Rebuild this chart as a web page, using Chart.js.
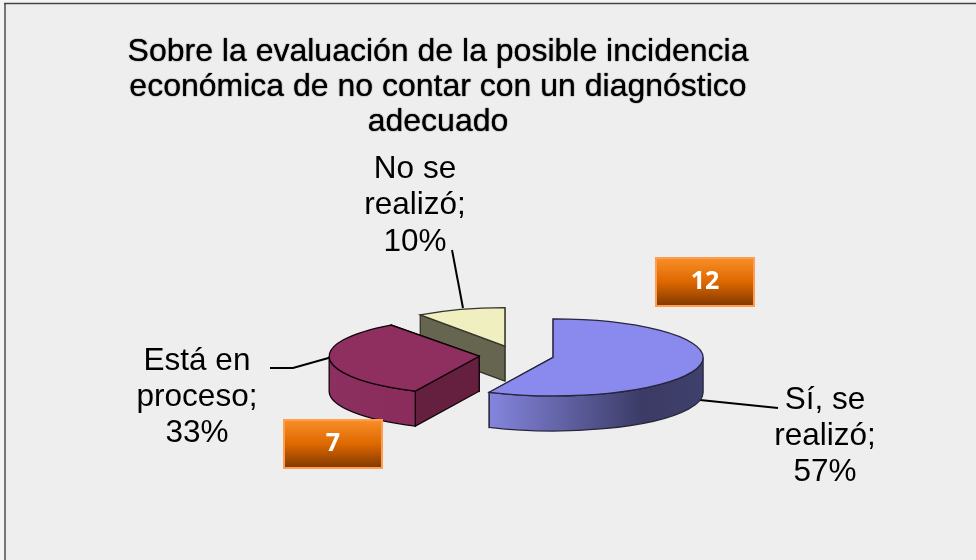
<!DOCTYPE html>
<html lang="es">
<head>
<meta charset="utf-8">
<title>Incidencia económica</title>
<style>
html,body{margin:0;padding:0;background:#f4f4f4}
#wrap{position:relative;width:976px;height:560px}
canvas{display:block}
</style>
<script src="https://cdn.jsdelivr.net/npm/chart.js@4/dist/chart.umd.min.js"></script>
</head>
<body>
<div id="wrap"><canvas id="c" width="976" height="560"></canvas></div>
<script>
const titleLines = ['Sobre la evaluación de la posible incidencia','económica de no contar con un diagnóstico','adecuado'];
const categories = ['Sí, se realizó','Está en proceso','No se realizó'];
const percentages = [57, 33, 10];
const labelLines = [['Sí, se','realizó;'],['Está en','proceso;'],['No se','realizó;']];
const calloutValues = ['12','7'];
const topColors = ['#8a8aee','#8e2f5f','#efefbf'];

const FONT = '"Liberation Sans", Arial, sans-serif';
const CX = 516.5, CY = 355.3, SQ = 0.257, EXPLODE = 37.5, DEPTH = 35, R = 150;
const backScale = [1, 1, 0.96];

const labelPos = [
  {x:825, y:[409,445,481]},
  {x:197, y:[370,406,442]},
  {x:415, y:[178,214,251]}
];
const leaders = [
  [[700,400],[778,408]],
  [[332,357],[293,368],[270,368]],
  [[452,250],[463,308]]
];
const boxes = [{x:655,y:257},{x:283,y:419}];

function sliceCentre(a){
  const mid=(a.startAngle+a.endAngle)/2;
  return {x:CX+Math.cos(mid)*EXPLODE, y:CY+Math.sin(mid)*EXPLODE*SQ};
}
function rim(c,ang,k,dy){return {x:c.x+Math.cos(ang)*R*k, y:c.y+Math.sin(ang)*R*SQ+(dy||0)};}
function quad(ctx,pts,fill,stroke){
  ctx.beginPath();pts.forEach((p,i)=>i?ctx.lineTo(p.x,p.y):ctx.moveTo(p.x,p.y));ctx.closePath();
  ctx.fillStyle=fill;ctx.fill();ctx.strokeStyle=stroke;ctx.lineWidth=1.3;ctx.stroke();
}
const walls = [
  {stops:[[0,'#8585de'],[0.72,'#3b3b66'],[1,'#40406c']], face:'#3b3b66', line:'#26263c'},
  {stops:[[0,'#8b3060'],[1,'#8a2c5c']], face:'#652040', line:'#100408'},
  {stops:[[0,'#666650'],[1,'#666650']], face:'#666650', line:'#33332a'}
];
function drawSlice(ctx,chart,arc,i){
  const c=sliceCentre(arc), w=walls[i], k=backScale[i];
  const s=arc.startAngle, e=arc.endAngle;
  const apexD={x:c.x,y:c.y+DEPTH};
  [e,s].forEach(a=>{
    quad(ctx,[c,rim(c,a,k),rim(c,a,k,DEPTH),apexD],w.face,w.line);
  });
  const a0=Math.max(s,0), a1=Math.min(e,Math.PI);
  if(a1>a0){
    const l=rim(c,a0,k),r=rim(c,a1,k);
    const g=ctx.createLinearGradient(Math.min(l.x,r.x),0,Math.max(l.x,r.x),0);
    w.stops.forEach(t=>g.addColorStop(t[0],t[1]));
    ctx.beginPath();
    ctx.ellipse(c.x,c.y,R*k,R*SQ,0,a0,a1);
    ctx.ellipse(c.x,c.y+DEPTH,R*k,R*SQ,0,a1,a0,true);
    ctx.closePath();
    ctx.fillStyle=g;ctx.fill();ctx.strokeStyle=w.line;ctx.lineWidth=1.3;ctx.stroke();
  }
  ctx.save();
  ctx.translate(c.x,c.y);ctx.scale(k,SQ);ctx.translate(-arc.x,-arc.y);
  arc.draw(ctx,chart.chartArea);
  ctx.restore();
  ctx.beginPath();
  ctx.moveTo(c.x,c.y);ctx.ellipse(c.x,c.y,R*k,R*SQ,0,s,e);ctx.closePath();
  ctx.strokeStyle=w.line;ctx.lineWidth=1.3;ctx.stroke();
}
const pie3d = {
  id:'pie3d',
  afterLayout(chart){
    const tb=chart.titleBlock;
    if(tb && !tb._soft){
      const orig=tb.draw;
      tb.draw=function(){
        const ctx=this.ctx;
        ctx.save();ctx.shadowColor='#000';ctx.shadowBlur=1.2;
        orig.call(this);
        ctx.restore();
      };
      tb._soft=true;
    }
  },
  beforeDraw(chart){
    const ctx=chart.ctx;
    ctx.save();
    ctx.fillStyle='#eeeeee';ctx.fillRect(5,3,971,557);
    ctx.strokeStyle='#777777';ctx.lineWidth=2;
    ctx.beginPath();ctx.moveTo(5,560);ctx.lineTo(5,4);ctx.stroke();
    ctx.strokeStyle='#444444';ctx.lineWidth=1.5;
    ctx.beginPath();ctx.moveTo(4,3.5);ctx.lineTo(976,3.5);ctx.stroke();
    ctx.restore();
  },
  beforeDatasetDraw(chart,args){
    const ctx=chart.ctx, arcs=chart.getDatasetMeta(args.index).data;
    ctx.save();
    ctx.strokeStyle='#000';ctx.lineWidth=2;
    leaders.forEach(l=>{ctx.beginPath();l.forEach((p,i)=>i?ctx.lineTo(p[0],p[1]):ctx.moveTo(p[0],p[1]));ctx.stroke();});
    [2,1,0].forEach(i=>drawSlice(ctx,chart,arcs[i],i));
    ctx.restore();
    return false;
  },
  afterDraw(chart){
    const ctx=chart.ctx;
    ctx.save();
    ctx.textAlign='center';ctx.textBaseline='alphabetic';
    ctx.fillStyle='#000';ctx.font='31.5px '+FONT;
    labelLines.forEach((ls,i)=>{
      const p=labelPos[i];
      [...ls,percentages[i]+'%'].forEach((t,j)=>ctx.fillText(t,p.x,p.y[j]));
    });
    boxes.forEach((b,i)=>{
      const g=ctx.createLinearGradient(0,b.y,0,b.y+50);
      g.addColorStop(0,'#fa9028');g.addColorStop(0.5,'#de6800');g.addColorStop(1,'#7c3600');
      ctx.fillStyle=g;ctx.fillRect(b.x,b.y,100,50);
      ctx.strokeStyle='#ff9e50';ctx.lineWidth=2;ctx.strokeRect(b.x+1,b.y+1,98,48);
      ctx.fillStyle='#fff';ctx.font='bold 25px "Open Sans", sans-serif';
      ctx.textBaseline='middle';ctx.fillText(calloutValues[i],b.x+50,b.y+25);
      ctx.textBaseline='alphabetic';
    });
    ctx.restore();
  }
};
new Chart(document.getElementById('c'),{
  type:'pie',
  data:{labels:categories,datasets:[{data:percentages,backgroundColor:topColors,borderWidth:0}]},
  options:{
    responsive:false,animation:false,
    radius:R,
    layout:{padding:{right:100,top:34.5}},
    plugins:{
      legend:{display:false},tooltip:{enabled:false},
      title:{display:true,text:titleLines,color:'#000',
        font:{family:FONT,size:32,weight:'normal',lineHeight:1.094},
        padding:{top:0,bottom:0}}
    }
  },
  plugins:[pie3d]
});
</script>
</body>
</html>
